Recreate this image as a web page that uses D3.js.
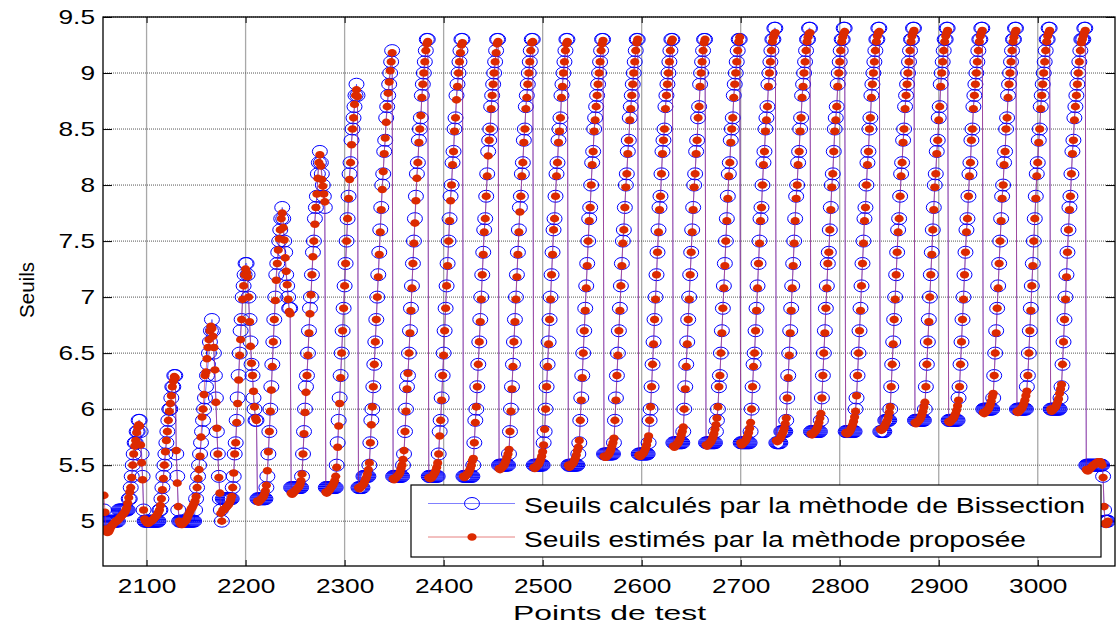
<!DOCTYPE html>
<html>
<head>
<meta charset="utf-8">
<script src="https://cdn.jsdelivr.net/npm/d3@7"></script>
<style>
  body { margin: 0; background: #fff; }
  svg { display: block; }
</style>
</head>
<body>
<div id="target"></div>
<script>
// one value per test point, starting at this index
const firstTestPoint = 2057;
const xTickValues = [2100, 2200, 2300, 2400, 2500, 2600, 2700, 2800, 2900, 3000];
const yTickValues = [5, 5.5, 6, 6.5, 7, 7.5, 8, 8.5, 9, 9.5];
const seriesNames = ["Seuils calculés par la mèthode de Bissection", "Seuils estimés par la mèthode proposée"];

// thresholds from the bisection method, one array per cycle
const bisection = [
  [5.1, 5.0,5.0,5.0,5.0,5.0,5.0,5.0, 5.0,5.0,5.0,5.0,5.0,5.0,5.0, 5.1,5.1,5.1,5.1,5.1,5.1,5.1,5.1,5.1,
   5.1,5.2,5.2,5.3,5.4,5.5,5.6,5.7,5.7,5.8,5.8,5.9,5.9, 5.8,5.6,5.4,5.1],
  [5.0,5.0,5.0,5.0,5.0, 5.0,5.0,5.0,5.0,5.0, 5.0,5.0,5.0,5.0,5.0,
   5.1,5.1,5.2,5.3,5.4,5.5,5.6,5.7,5.8,5.9,6.0,6.0,6.1,6.2,6.2,6.3,6.3, 5.6,5.4,5.1,5.0],
  [5.0,5.0,5.0,5.0,5.0, 5.0,5.0,5.0,5.0,5.0, 5.0,5.0,5.0,5.0,5.0,
   5.1,5.2,5.3,5.4,5.5,5.6,5.7,5.8,5.9,6.0,6.1,6.2,6.3,6.4,6.5,6.6,6.7,6.8,
   6.7,6.5,6.3,6.1,5.8,5.6,5.4,5.2,5.1,5.0],
  [5.2,5.2,5.2,5.2,5.2,5.2,5.2,5.2,5.2,5.2,
   5.3,5.4,5.6,5.7,5.9,6.1,6.3,6.5,6.7,6.8,7.0,7.1,7.2,7.3,7.3,
   7.2,7.0,6.8,6.6,6.4,6.3,6.1,6.0,5.9,5.9],
  [5.2,5.2,5.2,5.2,5.2,5.2,5.2,5.2,5.2,
   5.3,5.4,5.6,5.8,6.0,6.2,6.4,6.6,6.8,7.0,7.2,7.3,7.4,7.5,7.6,7.7,7.8,
   7.7,7.5,7.4,7.2,7.1,7.0,6.9,6.9],
  [5.3,5.3,5.3,5.3,5.3,5.3,5.3,5.3,5.3,5.3,5.3,
   5.4,5.6,5.8,6.0,6.2,6.3,6.5,6.7,6.9,7.0,7.2,7.4,7.5,7.7,7.8,7.9,8.1,8.2,8.3,
   8.2,8.1,8.0,7.9,7.8],
  [5.3,5.3,5.3,5.3,5.3,5.3,5.3,5.3,5.3,5.3,5.3,
   5.5,5.7,5.9,6.1,6.3,6.5,6.7,6.9,7.1,7.3,7.5,7.7,7.9,8.1,8.2,8.4,8.5,8.6,8.7,8.8,8.9, 8.8],
  [5.3,5.3,5.3,5.3,5.3,5.4,5.4,5.4,5.4,5.4,5.4,
   5.5,5.7,5.9,6.0,6.2,6.4,6.6,6.8,7.0,7.2,7.4,7.6,7.8,8.0,8.1,8.3,8.4,8.6,8.7,8.8,8.9,9.0,9.1,9.2],
  [5.4,5.4,5.4,5.4,5.4,5.4,5.4,5.4,5.4,5.4,
   5.5,5.6,5.8,6.0,6.2,6.3,6.5,6.7,6.9,7.1,7.3,7.5,7.7,7.9,8.1,8.2,8.4,8.5,8.6,8.8,8.9,9.0,9.1,9.2,9.3,9.3],
  [5.4,5.4,5.4,5.4,5.4,5.4,5.4,5.4,5.4,5.4,
   5.6,5.8,5.9,6.1,6.3,6.5,6.7,6.9,7.1,7.3,7.5,7.7,7.9,8.0,8.2,8.3,8.5,8.6,8.8,8.9,9.0,9.1,9.2,9.3,9.3],
  [5.4,5.4,5.4,5.4,5.4,5.4,5.4,5.4,5.4,5.4,
   5.5,5.7,5.9,6.0,6.2,6.4,6.6,6.8,7.0,7.2,7.4,7.6,7.7,7.9,8.1,8.3,8.4,8.5,8.7,8.8,8.9,9.0,9.1,9.2,9.3,9.3],
  [5.5,5.5,5.5,5.5,5.5,5.5,5.5,5.5,5.5,5.5,
   5.6,5.8,6.0,6.2,6.4,6.6,6.8,7.0,7.2,7.4,7.6,7.8,7.9,8.1,8.2,8.4,8.5,8.7,8.8,8.9,9.0,9.1,9.2,9.3,9.3],
  [5.5,5.5,5.5,5.5,5.5,5.5,5.5,5.5,5.5,5.5,
   5.7,5.8,6.0,6.2,6.4,6.6,6.8,7.0,7.2,7.4,7.6,7.7,7.9,8.1,8.2,8.4,8.5,8.6,8.8,8.9,9.0,9.1,9.2,9.3,9.3],
  [5.5,5.5,5.5,5.5,5.5,5.5,5.5,5.5,5.5,5.5,
   5.6,5.7,5.9,6.1,6.3,6.5,6.7,6.9,7.1,7.3,7.5,7.7,7.8,8.0,8.2,8.3,8.5,8.6,8.7,8.8,8.9,9.0,9.1,9.2,9.3,9.3],
  [5.6,5.6,5.6,5.6,5.6,5.6,5.6,5.6,5.6,5.6,
   5.7,5.9,6.1,6.3,6.5,6.7,6.9,7.1,7.3,7.5,7.6,7.8,8.0,8.1,8.3,8.4,8.6,8.7,8.8,8.9,9.0,9.1,9.2,9.3,9.3],
  [5.6,5.6,5.6,5.6,5.6,5.6,5.6,5.6,5.6,5.6,
   5.7,5.9,6.0,6.2,6.4,6.6,6.8,7.0,7.2,7.4,7.6,7.8,7.9,8.1,8.3,8.4,8.5,8.7,8.8,8.9,9.0,9.1,9.2,9.3,9.3],
  [5.7,5.7,5.7,5.7,5.7,5.7,5.7,5.7,5.7,5.7,
   5.8,6.0,6.2,6.4,6.6,6.8,7.0,7.2,7.4,7.6,7.8,8.0,8.1,8.3,8.4,8.6,8.7,8.9,9.0,9.1,9.2,9.3,9.3],
  [5.7,5.7,5.7,5.7,5.7,5.7,5.7,5.7,5.7,5.7,
   5.8,5.9,6.0,6.2,6.3,6.5,6.7,6.9,7.1,7.3,7.5,7.7,7.9,8.1,8.2,8.4,8.5,8.6,8.8,8.9,9.0,9.1,9.2,9.3,9.3],
  [5.7,5.7,5.7,5.7,5.7,5.7,5.7,5.7,5.7,5.7,
   5.8,6.0,6.2,6.4,6.5,6.7,6.9,7.1,7.3,7.5,7.7,7.8,8.0,8.2,8.3,8.5,8.6,8.7,8.9,9.0,9.1,9.2,9.3,9.3,9.4,9.4],
  [5.7,5.7,5.7,5.7,5.7,5.8,5.8,5.8,5.8,5.8,
   5.9,6.1,6.3,6.5,6.7,6.9,7.1,7.3,7.5,7.7,7.9,8.0,8.2,8.3,8.5,8.6,8.8,8.9,9.0,9.1,9.2,9.3,9.3,9.4,9.4],
  [5.8,5.8,5.8,5.8,5.8,5.8,5.8,5.8,5.8,5.8,
   5.9,6.1,6.3,6.5,6.7,6.9,7.1,7.3,7.4,7.6,7.8,8.0,8.1,8.3,8.5,8.6,8.7,8.9,9.0,9.1,9.2,9.3,9.3,9.4,9.4],
  [5.8,5.8,5.8,5.8,5.8,5.8,5.8,5.8,5.8,5.8,
   6.0,6.1,6.3,6.5,6.7,6.9,7.1,7.3,7.5,7.7,7.8,8.0,8.2,8.3,8.5,8.6,8.8,8.9,9.0,9.1,9.2,9.3,9.3,9.4,9.4],
  [5.8,5.8,5.8,5.8,5.8,5.9,5.9,5.9,5.9,5.9,
   6.0,6.2,6.4,6.6,6.8,7.0,7.2,7.4,7.6,7.7,7.9,8.1,8.2,8.4,8.5,8.7,8.8,8.9,9.0,9.1,9.2,9.3,9.3,9.4,9.4],
  [5.9,5.9,5.9,5.9,5.9,5.9,5.9,5.9,5.9,5.9,
   6.0,6.2,6.4,6.6,6.8,7.0,7.2,7.4,7.6,7.8,8.0,8.1,8.3,8.4,8.6,8.7,8.9,9.0,9.1,9.2,9.3,9.3,9.4,9.4],
  [5.9,5.9,5.9,5.9,5.9,5.9,5.9,5.9,5.9,5.9,
   6.1,6.2,6.4,6.6,6.8,7.0,7.2,7.4,7.6,7.7,7.9,8.1,8.2,8.4,8.5,8.7,8.8,8.9,9.0,9.1,9.2,9.3,9.3,9.4,9.4],
  [6.0,6.0,6.0,6.0,6.0,6.0,6.0,6.0,6.0,6.0,
   6.1,6.3,6.5,6.7,6.9,7.1,7.3,7.5,7.7,7.9,8.0,8.2,8.3,8.5,8.6,8.8,8.9,9.0,9.1,9.2,9.3,9.3,9.4,9.4],
  [6.0,6.0,6.0,6.0,6.0,6.0,6.0,6.0,6.0,6.0,
   6.2,6.3,6.5,6.7,6.9,7.1,7.3,7.5,7.7,7.9,8.1,8.2,8.4,8.5,8.7,8.8,8.9,9.0,9.1,9.2,9.3,9.3,9.4,9.4],
  [6.0,6.0,6.0,6.0,6.0,6.0,6.0,6.0,6.0,6.0,
   6.1,6.2,6.4,6.6,6.8,7.0,7.2,7.4,7.6,7.8,7.9,8.1,8.3,8.4,8.6,8.7,8.8,8.9,9.0,9.1,9.2,9.3,9.3,9.3,9.4,9.4],
  [5.5,5.5,5.5,5.5,5.5,5.5,5.5,5.5,5.5,5.5,5.5,5.5,5.5,5.5,5.5,5.5,5.5,
   5.4,5.1,5.0,5.0,5.0,5.0]
];

// thresholds estimated by the proposed method, same cycles
const proposed = [
  [5.23,5.08,4.93,4.9,4.9,4.91,4.93,4.95,4.96,4.97,4.98,4.99,5.0,5.0,5.01,5.02,5.03,5.04,5.05,5.06,5.07,5.08,5.1,5.12,
   5.16,5.21,5.26,5.3,5.39,5.5,5.6,5.67,5.72,5.79,5.84,5.86,5.85, 5.68,5.52,5.37,5.1],
  [5.02,5.0,4.99,4.98,4.98,4.99,5.0,5.0,5.01,5.02,5.03,5.04,5.05,5.06,5.08,
   5.1,5.14,5.2,5.28,5.38,5.5,5.62,5.72,5.8,5.9,5.98,6.05,6.12,6.2,6.25,6.29,6.28, 5.63,5.34,5.13,5.0],
  [4.98,4.97,4.97,4.98,4.99,5.0,5.01,5.03,5.05,5.07,5.09,5.11,5.12,5.14,5.16,
   5.18,5.22,5.3,5.38,5.46,5.58,5.75,5.93,6.0,6.13,6.3,6.33,6.45,6.55,6.62,6.7,6.74,6.72,
   6.65,6.55,6.35,6.06,5.83,5.6,5.39,5.25,5.07,5.0],
  [5.1,5.1,5.11,5.12,5.13,5.14,5.15,5.17,5.19,5.22,
   5.3,5.43,5.6,5.7,5.88,6.05,6.26,6.48,6.62,6.8,6.98,7.1,7.2,7.25,7.22,
   7.18,7.0,6.78,6.56,6.41,6.3,6.16,6.02,5.92,5.9],
  [5.18,5.17,5.18,5.19,5.2,5.21,5.22,5.24,5.27,
   5.32,5.45,5.62,5.8,5.98,6.17,6.38,6.6,6.8,6.97,7.15,7.3,7.42,7.52,7.6,7.7,7.75,
   7.62,7.51,7.35,7.23,7.11,6.98,6.87,6.85],
  [5.25,5.24,5.25,5.26,5.27,5.28,5.29,5.3,5.31,5.33,5.36,
   5.42,5.6,5.78,5.97,6.15,6.3,6.48,6.68,6.85,7.02,7.2,7.36,7.5,7.65,7.8,7.92,8.06,8.2,8.27,
   8.17,8.05,7.99,7.92,7.85],
  [5.26,5.25,5.26,5.27,5.28,5.3,5.31,5.32,5.34,5.36,5.4,
   5.48,5.66,5.85,6.05,6.28,6.5,6.7,6.9,7.1,7.3,7.5,7.7,7.88,8.05,8.2,8.36,8.5,8.6,8.72,8.8,8.85, 8.79],
  [5.3,5.29,5.3,5.31,5.32,5.33,5.35,5.37,5.39,5.42,5.46,
   5.52,5.7,5.86,6.02,6.2,6.4,6.6,6.8,7.0,7.18,7.38,7.58,7.78,7.96,8.12,8.28,8.42,8.56,8.7,8.82,8.92,9.02,9.1,9.18],
  [5.38,5.37,5.38,5.39,5.4,5.41,5.42,5.44,5.47,5.5,
   5.55,5.63,5.8,5.98,6.18,6.32,6.5,6.68,6.88,7.08,7.3,7.48,7.66,7.86,8.06,8.2,8.38,8.5,8.62,8.78,8.9,9.0,9.1,9.2,9.26,9.28],
  [5.39,5.38,5.38,5.39,5.4,5.42,5.43,5.45,5.48,5.52,
   5.6,5.76,5.9,6.08,6.3,6.48,6.7,6.9,7.1,7.28,7.5,7.68,7.86,8.0,8.18,8.3,8.48,8.6,8.76,8.88,9.0,9.1,9.18,9.25,9.27],
  [5.4,5.39,5.4,5.41,5.42,5.43,5.45,5.47,5.5,5.54,
   5.56,5.7,5.88,6.02,6.2,6.4,6.6,6.78,6.98,7.2,7.38,7.58,7.7,7.9,8.08,8.26,8.4,8.5,8.68,8.8,8.9,9.0,9.1,9.18,9.26,9.28],
  [5.47,5.46,5.47,5.48,5.49,5.5,5.52,5.54,5.57,5.6,
   5.64,5.8,5.98,6.18,6.38,6.6,6.78,6.98,7.18,7.38,7.58,7.76,7.9,8.08,8.2,8.38,8.5,8.68,8.78,8.9,9.0,9.1,9.2,9.27,9.28],
  [5.48,5.47,5.48,5.49,5.5,5.51,5.53,5.55,5.58,5.62,
   5.68,5.82,6.0,6.2,6.38,6.58,6.8,6.98,7.2,7.38,7.6,7.7,7.9,8.08,8.2,8.38,8.48,8.6,8.78,8.88,9.0,9.1,9.2,9.26,9.28],
  [5.5,5.48,5.49,5.5,5.51,5.52,5.54,5.56,5.59,5.63,
   5.66,5.72,5.9,6.08,6.28,6.5,6.7,6.88,7.08,7.28,7.5,7.68,7.8,8.0,8.18,8.3,8.48,8.58,8.7,8.8,8.9,9.0,9.1,9.2,9.26,9.29],
  [5.58,5.57,5.57,5.58,5.59,5.6,5.62,5.64,5.67,5.7,
   5.74,5.9,6.08,6.3,6.48,6.7,6.88,7.1,7.28,7.48,7.6,7.8,7.98,8.1,8.28,8.4,8.58,8.68,8.8,8.9,9.0,9.1,9.2,9.27,9.3],
  [5.59,5.58,5.58,5.59,5.6,5.61,5.63,5.65,5.68,5.72,
   5.76,5.9,6.02,6.2,6.4,6.58,6.8,6.98,7.2,7.4,7.58,7.78,7.9,8.1,8.28,8.4,8.5,8.68,8.8,8.9,9.0,9.1,9.2,9.28,9.3],
  [5.67,5.66,5.67,5.68,5.69,5.7,5.72,5.74,5.77,5.8,
   5.84,6.0,6.18,6.38,6.58,6.8,6.98,7.2,7.4,7.58,7.78,7.98,8.1,8.28,8.4,8.6,8.7,8.88,9.0,9.1,9.2,9.27,9.3],
  [5.68,5.67,5.68,5.69,5.7,5.71,5.73,5.75,5.78,5.82,
   5.86,5.92,6.02,6.2,6.3,6.5,6.68,6.9,7.08,7.28,7.5,7.68,7.88,8.08,8.2,8.38,8.5,8.6,8.78,8.9,9.0,9.1,9.2,9.28,9.32],
  [5.7,5.68,5.69,5.7,5.71,5.72,5.74,5.76,5.79,5.83,
   5.88,6.0,6.2,6.38,6.5,6.7,6.88,7.08,7.3,7.48,7.68,7.8,8.0,8.18,8.3,8.48,8.58,8.7,8.88,9.0,9.1,9.2,9.28,9.32,9.35,9.36],
  [5.72,5.71,5.72,5.73,5.74,5.76,5.78,5.8,5.83,5.87,
   5.92,6.1,6.28,6.48,6.68,6.88,7.08,7.28,7.48,7.68,7.88,8.0,8.18,8.3,8.48,8.6,8.78,8.88,9.0,9.1,9.2,9.28,9.32,9.35,9.36],
  [5.78,5.77,5.78,5.79,5.8,5.81,5.83,5.85,5.88,5.92,
   5.96,6.1,6.3,6.5,6.68,6.9,7.08,7.3,7.4,7.6,7.78,7.98,8.1,8.3,8.48,8.58,8.7,8.88,9.0,9.1,9.2,9.28,9.32,9.35,9.37],
  [5.79,5.78,5.78,5.79,5.8,5.82,5.84,5.86,5.89,5.93,
   5.98,6.12,6.3,6.5,6.7,6.88,7.1,7.3,7.48,7.68,7.8,8.0,8.18,8.3,8.5,8.6,8.78,8.9,9.0,9.1,9.2,9.28,9.33,9.36,9.37],
  [5.82,5.81,5.82,5.83,5.84,5.86,5.88,5.9,5.93,5.97,
   6.02,6.2,6.4,6.58,6.8,6.98,7.2,7.4,7.58,7.7,7.9,8.08,8.2,8.38,8.5,8.68,8.8,8.9,9.0,9.1,9.2,9.28,9.33,9.36,9.38],
  [5.88,5.87,5.88,5.89,5.9,5.91,5.93,5.95,5.98,6.02,
   6.06,6.2,6.4,6.6,6.78,7.0,7.2,7.38,7.6,7.78,7.98,8.1,8.28,8.4,8.58,8.7,8.88,9.0,9.1,9.2,9.28,9.33,9.36,9.38],
  [5.89,5.88,5.89,5.9,5.91,5.92,5.94,5.96,5.99,6.03,
   6.08,6.2,6.4,6.6,6.8,6.98,7.2,7.4,7.58,7.7,7.9,8.08,8.2,8.4,8.5,8.68,8.8,8.9,9.0,9.1,9.2,9.28,9.33,9.36,9.38],
  [5.97,5.96,5.97,5.98,5.99,6.0,6.02,6.04,6.07,6.11,
   6.14,6.3,6.5,6.68,6.9,7.08,7.3,7.5,7.68,7.88,8.0,8.18,8.3,8.5,8.6,8.78,8.9,9.0,9.1,9.2,9.28,9.32,9.36,9.38],
  [5.98,5.97,5.98,5.99,6.0,6.01,6.03,6.05,6.08,6.12,
   6.16,6.3,6.5,6.7,6.88,7.1,7.28,7.5,7.7,7.88,8.08,8.2,8.38,8.5,8.68,8.8,8.9,9.0,9.1,9.2,9.28,9.33,9.36,9.38],
  [6.0,5.98,5.99,6.0,6.01,6.02,6.04,6.06,6.09,6.14,
   6.18,6.22,6.4,6.6,6.8,6.98,7.18,7.4,7.6,7.78,7.9,8.1,8.28,8.4,8.58,8.7,8.8,8.9,9.0,9.1,9.2,9.27,9.3,9.33,9.36,9.38],
  [5.46,5.45,5.45,5.46,5.47,5.48,5.49,5.5,5.5,5.51,5.52,5.52,5.53,5.53,5.53,5.52,5.5,
   5.39,5.13,4.98,4.97,4.98,5.0]
];

let width = 1116,
  height = 628,
  margin = {
    top: 17,
    right: 1,
    bottom: 62,
    left: 103
  }
let w = width - margin.left - margin.right,
  h = height - margin.top - margin.bottom
let stretch = 1.25 // the text in the figure is wider than normal

let svg = d3.select("#target").append("svg")
  .attr("width", width)
  .attr("height", height)
  .style("font-family", '"Liberation Sans", Arial, sans-serif')
let g = svg.append("g")
  .attr("transform", "translate(" + margin.left + "," + margin.top + ")")

let x = d3.scaleLinear().domain([2056, 3078]).range([0, w])
let y = d3.scaleLinear().domain([4.6, 9.5]).range([h, 0])

svg.append("defs").append("clipPath").attr("id", "plotclip")
  .append("rect").attr("width", w).attr("height", h)

// grid
g.append("g").selectAll("line")
  .data(xTickValues)
  .enter().append("line")
  .attr("x1", d => x(d)).attr("x2", d => x(d))
  .attr("y1", 0).attr("y2", h)
  .attr("stroke", "#a8a8a8")
  .attr("stroke-width", 1.3)
g.append("g").selectAll("line")
  .data(yTickValues)
  .enter().append("line")
  .attr("x1", 0).attr("x2", w)
  .attr("y1", d => y(d)).attr("y2", d => y(d))
  .attr("stroke", "#555")
  .attr("stroke-dasharray", "1,1")

// axes
let xAxis = d3.axisBottom(x).tickValues(xTickValues).tickSizeInner(-6).tickSizeOuter(0)
  .tickPadding(12).tickFormat(d => String(d))
let yAxis = d3.axisLeft(y).tickValues(yTickValues).tickSizeInner(-9).tickSizeOuter(0)
  .tickPadding(6.4).tickFormat(d => String(d))

g.append("g")
  .attr("transform", "translate(0," + h + ")")
  .call(xAxis)
  .attr("font-size", 21).attr("font-family", null)
  .call(a => a.select(".domain").remove())
  .selectAll("text").attr("fill", "#000").attr("transform", "scale(" + stretch + ",1)")

g.append("g")
  .call(yAxis)
  .attr("font-size", 21).attr("font-family", null)
  .call(a => a.select(".domain").remove())
  .selectAll("text").attr("fill", "#000").attr("transform", "scale(" + stretch + ",1)")

g.append("g")
  .call(d3.axisTop(x).tickValues(xTickValues).tickSizeInner(-6).tickSizeOuter(0).tickFormat(""))
  .call(a => a.select(".domain").remove())
g.append("g")
  .attr("transform", "translate(" + w + ",0)")
  .call(d3.axisRight(y).tickValues(yTickValues).tickSizeInner(-9).tickSizeOuter(0).tickFormat(""))
  .call(a => a.select(".domain").remove())

// data
let blue = bisection.flat(),
  red = proposed.flat()
let line = d3.line()
  .x((d, i) => x(firstTestPoint + i))
  .y(d => y(d))

let plot = g.append("g").attr("clip-path", "url(#plotclip)")

plot.append("path")
  .datum(blue)
  .attr("d", line)
  .attr("fill", "none")
  .attr("stroke", "#3030ff")
  .attr("stroke-width", 0.7)

plot.selectAll(".calc")
  .data(blue)
  .enter().append("ellipse")
  .attr("class", "calc")
  .attr("cx", (d, i) => x(firstTestPoint + i))
  .attr("cy", d => y(d))
  .attr("rx", 7.5)
  .attr("ry", 6)
  .attr("fill", "none")
  .attr("stroke", "#0000ff")
  .attr("stroke-width", 1)

plot.append("path")
  .datum(red)
  .attr("d", line)
  .attr("fill", "none")
  .attr("stroke", "#c03060")
  .attr("stroke-opacity", 0.75)
  .attr("stroke-width", 0.8)

plot.selectAll(".est")
  .data(red)
  .enter().append("ellipse")
  .attr("class", "est")
  .attr("cx", (d, i) => x(firstTestPoint + i))
  .attr("cy", d => y(d))
  .attr("rx", 4.6)
  .attr("ry", 3.8)
  .attr("fill", "#dc2a00")

// box
g.append("rect")
  .attr("width", w).attr("height", h)
  .attr("fill", "none")
  .attr("stroke", "#000")
  .attr("stroke-width", 1.3)

// axis titles
svg.append("text")
  .attr("x", 513).attr("y", 620)
  .attr("font-size", 21)
  .attr("textLength", 193).attr("lengthAdjust", "spacingAndGlyphs")
  .text("Points de test")
svg.append("text")
  .attr("transform", "translate(34,290) rotate(-90)")
  .attr("x", -28)
  .attr("font-size", 20)
  .attr("textLength", 56).attr("lengthAdjust", "spacingAndGlyphs")
  .text("Seuils")

// legend
let legend = svg.append("g")
legend.append("rect")
  .attr("x", 411).attr("y", 485)
  .attr("width", 690).attr("height", 72)
  .attr("fill", "#fff")
  .attr("stroke", "#000")
  .attr("stroke-width", 1.2)
let rows = [
  { y: 503.5, len: 561, color: "#0000ff" },
  { y: 537, len: 502, color: "#dc2a00" }
]
rows.forEach((r, i) => {
  legend.append("line")
    .attr("x1", 428).attr("x2", 515)
    .attr("y1", r.y).attr("y2", r.y)
    .attr("stroke", i == 0 ? "#6060ff" : "#e06060")
    .attr("stroke-width", 0.8)
  if (i == 0) {
    legend.append("ellipse")
      .attr("cx", 472).attr("cy", r.y).attr("rx", 7.5).attr("ry", 6)
      .attr("fill", "none").attr("stroke", r.color)
  } else {
    legend.append("ellipse")
      .attr("cx", 472).attr("cy", r.y).attr("rx", 4.6).attr("ry", 3.8)
      .attr("fill", r.color)
  }
  legend.append("text")
    .attr("x", 524).attr("y", r.y + 9.5)
    .attr("font-size", 22)
    .attr("textLength", r.len).attr("lengthAdjust", "spacingAndGlyphs")
    .text(seriesNames[i])
})
</script>
</body>
</html>
